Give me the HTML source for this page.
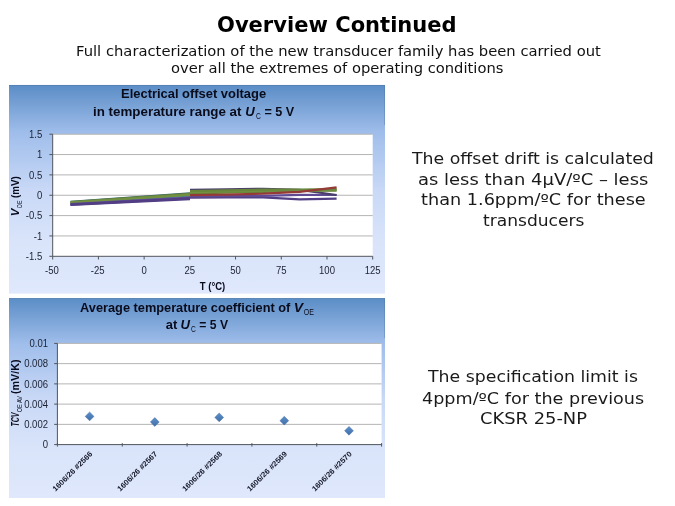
<!DOCTYPE html>
<html><head><meta charset="utf-8"><title>Overview Continued</title>
<style>
html,body{margin:0;padding:0;background:#fff;}
body{width:675px;height:506px;position:relative;overflow:hidden;font-family:"DejaVu Sans","Liberation Sans",sans-serif;color:#000;}
.t{position:absolute;white-space:nowrap;transform-origin:0 0;}
</style></head><body>
<svg width="675" height="506" viewBox="0 0 675 506" style="position:absolute;left:0;top:0" font-family="'Liberation Sans','DejaVu Sans',sans-serif">
<defs>
<linearGradient id="g1" x1="0" y1="0" x2="0" y2="1">
<stop offset="0" stop-color="#5b8dc6"/><stop offset="0.23" stop-color="#a0beeb"/><stop offset="0.5" stop-color="#c8d8f6"/><stop offset="0.75" stop-color="#d9e4fa"/><stop offset="1" stop-color="#dfe8fc"/>
</linearGradient>
<linearGradient id="gd" x1="0" y1="0" x2="0" y2="1"><stop offset="0" stop-color="#5d8fcb"/><stop offset="1" stop-color="#3f6fa8"/></linearGradient>
</defs>
<rect x="9" y="85" width="376" height="208.60000000000002" fill="url(#g1)"/>
<path d="M9 85.4H384.6V125" fill="none" stroke="#4a6a94" stroke-opacity="0.45" stroke-width="0.8"/>
<rect x="52.7" y="134.2" width="320" height="122.1" fill="#fff"/>
<line x1="52.7" y1="134.2" x2="372.7" y2="134.2" stroke="#b4b4b4"/>
<line x1="52.7" y1="154.55" x2="372.7" y2="154.55" stroke="#b4b4b4"/>
<line x1="52.7" y1="174.9" x2="372.7" y2="174.9" stroke="#b4b4b4"/>
<line x1="52.7" y1="195.25" x2="372.7" y2="195.25" stroke="#b4b4b4"/>
<line x1="52.7" y1="215.6" x2="372.7" y2="215.6" stroke="#b4b4b4"/>
<line x1="52.7" y1="235.95" x2="372.7" y2="235.95" stroke="#b4b4b4"/>
<g stroke="#50545c" stroke-width="1">
<line x1="52.7" y1="134.2" x2="52.7" y2="256.3"/>
<line x1="52.7" y1="256.3" x2="372.7" y2="256.3"/>
<line x1="49.4" y1="134.2" x2="52.7" y2="134.2"/>
<line x1="49.4" y1="154.55" x2="52.7" y2="154.55"/>
<line x1="49.4" y1="174.9" x2="52.7" y2="174.9"/>
<line x1="49.4" y1="195.25" x2="52.7" y2="195.25"/>
<line x1="49.4" y1="215.6" x2="52.7" y2="215.6"/>
<line x1="49.4" y1="235.95" x2="52.7" y2="235.95"/>
<line x1="49.4" y1="256.3" x2="52.7" y2="256.3"/>
<line x1="52.7" y1="256.3" x2="52.7" y2="259.5"/>
<line x1="98.41" y1="256.3" x2="98.41" y2="259.5"/>
<line x1="144.13" y1="256.3" x2="144.13" y2="259.5"/>
<line x1="189.84" y1="256.3" x2="189.84" y2="259.5"/>
<line x1="235.56" y1="256.3" x2="235.56" y2="259.5"/>
<line x1="281.27" y1="256.3" x2="281.27" y2="259.5"/>
<line x1="326.99" y1="256.3" x2="326.99" y2="259.5"/>
<line x1="372.7" y1="256.3" x2="372.7" y2="259.5"/>
</g>
<g font-size="10.6" fill="#1b2133">
<text transform="translate(42.3,137.9) scale(0.9,1)" text-anchor="end">1.5</text>
<text transform="translate(42.3,158.25) scale(0.9,1)" text-anchor="end">1</text>
<text transform="translate(42.3,178.6) scale(0.9,1)" text-anchor="end">0.5</text>
<text transform="translate(42.3,198.95) scale(0.9,1)" text-anchor="end">0</text>
<text transform="translate(42.3,219.3) scale(0.9,1)" text-anchor="end">-0.5</text>
<text transform="translate(42.3,239.65) scale(0.9,1)" text-anchor="end">-1</text>
<text transform="translate(42.3,260) scale(0.9,1)" text-anchor="end">-1.5</text>
<text transform="translate(51.9,274.3) scale(0.9,1)" text-anchor="middle">-50</text>
<text transform="translate(97.61,274.3) scale(0.9,1)" text-anchor="middle">-25</text>
<text transform="translate(144.13,274.3) scale(0.9,1)" text-anchor="middle">0</text>
<text transform="translate(189.84,274.3) scale(0.9,1)" text-anchor="middle">25</text>
<text transform="translate(235.56,274.3) scale(0.9,1)" text-anchor="middle">50</text>
<text transform="translate(281.27,274.3) scale(0.9,1)" text-anchor="middle">75</text>
<text transform="translate(326.99,274.3) scale(0.9,1)" text-anchor="middle">100</text>
<text transform="translate(372.7,274.3) scale(0.9,1)" text-anchor="middle">125</text>
</g>
<polyline points="70.5,201.8 190,193.4" fill="none" stroke="#35606f" stroke-width="2.2" stroke-linejoin="round"/>
<polyline points="70.5,203.2 190,195.9" fill="none" stroke="#4a8196" stroke-width="2.2" stroke-linejoin="round"/>
<polyline points="70.5,202 190,193.8" fill="none" stroke="#67863b" stroke-width="2.2" stroke-linejoin="round"/>
<polyline points="70.5,202.6 190,194.9" fill="none" stroke="#729042" stroke-width="2.2" stroke-linejoin="round"/>
<polyline points="70.5,204.2 190,197.6" fill="none" stroke="#5f4a96" stroke-width="2.2" stroke-linejoin="round"/>
<polyline points="70.5,204.6 190,198.4" fill="none" stroke="#523e84" stroke-width="2.2" stroke-linejoin="round"/>
<polyline points="70.5,204.9 190,199.1" fill="none" stroke="#523e84" stroke-width="2.2" stroke-linejoin="round"/>
<polyline points="190,197.6 226.6,197.4 263.2,197.3 299.7,199.3 336.6,198.6" fill="none" stroke="#523e84" stroke-width="2.2" stroke-linejoin="round"/>
<polyline points="190,196.6 226.6,196.2 263.2,195.8 299.7,194.8 336.6,195" fill="none" stroke="#5f4a96" stroke-width="2.2" stroke-linejoin="round"/>
<polyline points="190,189.9 226.6,189.3 263.2,188.8 299.7,189.8 336.6,195" fill="none" stroke="#4b3f6a" stroke-width="2.2" stroke-linejoin="round"/>
<polyline points="190,193.4 226.6,192.6 263.2,191.8 299.7,191 336.6,190.7" fill="none" stroke="#67863b" stroke-width="2.2" stroke-linejoin="round"/>
<polyline points="190,192.2 226.6,191.4 263.2,190.7 299.7,190.2 336.6,189.9" fill="none" stroke="#729042" stroke-width="2.2" stroke-linejoin="round"/>
<polyline points="190,191 226.6,190.3 263.2,189.7 299.7,189.5 336.6,189.2" fill="none" stroke="#67863b" stroke-width="2.2" stroke-linejoin="round"/>
<polyline points="190,195.2 226.6,194.6 263.2,193.7 299.7,191.9 336.6,187.4" fill="none" stroke="#963a38" stroke-width="2.2" stroke-linejoin="round"/>
<g font-weight="bold" fill="#0a0c1c" font-size="13.6">
<text x="121.1" y="98.3" textLength="145" lengthAdjust="spacingAndGlyphs">Electrical offset voltage</text>
<text x="93" y="116.1" textLength="148.5" lengthAdjust="spacingAndGlyphs">in temperature range at</text>
<text x="245.3" y="116.1" textLength="9.5" lengthAdjust="spacingAndGlyphs" font-style="italic">U</text>
<text x="255.9" y="118.8" textLength="4.8" lengthAdjust="spacingAndGlyphs" font-size="9" font-weight="normal">C</text>
<text x="264.4" y="116.1" textLength="29.8" lengthAdjust="spacingAndGlyphs">= 5 V</text>
</g>
<text x="212.5" y="290.4" font-size="10.6" font-weight="bold" fill="#0a0c1c" text-anchor="middle" transform="translate(212.5,0) scale(0.9,1) translate(-212.5,0)">T (°C)</text>
<g transform="translate(18.8,216.2) rotate(-90)" font-size="10.2" font-weight="bold" fill="#0a0c1c">
<text x="0" y="0" textLength="7.6" lengthAdjust="spacingAndGlyphs" font-style="italic">V</text>
<text x="8" y="2.9" textLength="7.6" lengthAdjust="spacingAndGlyphs" font-size="7.6" font-weight="normal">OE</text>
<text x="18.2" y="0" textLength="21.7" lengthAdjust="spacingAndGlyphs">(mV)</text>
</g>
<rect x="9" y="298.1" width="376" height="199.89999999999998" fill="url(#g1)"/>
<path d="M9 298.5H384.6V338.1" fill="none" stroke="#4a6a94" stroke-opacity="0.45" stroke-width="0.8"/>
<rect x="57.4" y="343.4" width="324.2" height="101.2" fill="#fff"/>
<line x1="57.4" y1="343.4" x2="381.6" y2="343.4" stroke="#b4b4b4"/>
<line x1="57.4" y1="363.64" x2="381.6" y2="363.64" stroke="#b4b4b4"/>
<line x1="57.4" y1="383.88" x2="381.6" y2="383.88" stroke="#b4b4b4"/>
<line x1="57.4" y1="404.12" x2="381.6" y2="404.12" stroke="#b4b4b4"/>
<line x1="57.4" y1="424.36" x2="381.6" y2="424.36" stroke="#b4b4b4"/>
<g stroke="#50545c" stroke-width="1">
<line x1="57.4" y1="343.4" x2="57.4" y2="444.6"/>
<line x1="57.4" y1="444.6" x2="381.6" y2="444.6"/>
<line x1="54.2" y1="343.4" x2="57.4" y2="343.4"/>
<line x1="54.2" y1="363.64" x2="57.4" y2="363.64"/>
<line x1="54.2" y1="383.88" x2="57.4" y2="383.88"/>
<line x1="54.2" y1="404.12" x2="57.4" y2="404.12"/>
<line x1="54.2" y1="424.36" x2="57.4" y2="424.36"/>
<line x1="54.2" y1="444.6" x2="57.4" y2="444.6"/>
<line x1="57.4" y1="443.1" x2="57.4" y2="446.6"/>
<line x1="122.24" y1="443.1" x2="122.24" y2="446.6"/>
<line x1="187.08" y1="443.1" x2="187.08" y2="446.6"/>
<line x1="251.92" y1="443.1" x2="251.92" y2="446.6"/>
<line x1="316.76" y1="443.1" x2="316.76" y2="446.6"/>
<line x1="381.6" y1="443.1" x2="381.6" y2="446.6"/>
</g>
<g font-size="10.6" fill="#1b2133">
<text transform="translate(48,347.1) scale(0.9,1)" text-anchor="end">0.01</text>
<text transform="translate(48,367.34) scale(0.9,1)" text-anchor="end">0.008</text>
<text transform="translate(48,387.58) scale(0.9,1)" text-anchor="end">0.006</text>
<text transform="translate(48,407.82) scale(0.9,1)" text-anchor="end">0.004</text>
<text transform="translate(48,428.06) scale(0.9,1)" text-anchor="end">0.002</text>
<text transform="translate(48,448.3) scale(0.9,1)" text-anchor="end">0</text>
</g>
<path d="M89.6 412 l4.4 4.4 l-4.4 4.4 l-4.4 -4.4 z" fill="url(#gd)" stroke="#426fa6" stroke-width="0.5"/>
<path d="M154.8 417.6 l4.4 4.4 l-4.4 4.4 l-4.4 -4.4 z" fill="url(#gd)" stroke="#426fa6" stroke-width="0.5"/>
<path d="M219.2 413 l4.4 4.4 l-4.4 4.4 l-4.4 -4.4 z" fill="url(#gd)" stroke="#426fa6" stroke-width="0.5"/>
<path d="M284.3 416.3 l4.4 4.4 l-4.4 4.4 l-4.4 -4.4 z" fill="url(#gd)" stroke="#426fa6" stroke-width="0.5"/>
<path d="M349 426.4 l4.4 4.4 l-4.4 4.4 l-4.4 -4.4 z" fill="url(#gd)" stroke="#426fa6" stroke-width="0.5"/>
<g font-size="7.5" font-weight="bold" fill="#14182a">
<text transform="translate(72.4,471.3) rotate(-45)" x="0" y="2.6" text-anchor="middle" textLength="53" lengthAdjust="spacingAndGlyphs">1606/26 #2566</text>
<text transform="translate(137.24,471.3) rotate(-45)" x="0" y="2.6" text-anchor="middle" textLength="53" lengthAdjust="spacingAndGlyphs">1606/26 #2567</text>
<text transform="translate(202.08,471.3) rotate(-45)" x="0" y="2.6" text-anchor="middle" textLength="53" lengthAdjust="spacingAndGlyphs">1606/26 #2568</text>
<text transform="translate(266.92,471.3) rotate(-45)" x="0" y="2.6" text-anchor="middle" textLength="53" lengthAdjust="spacingAndGlyphs">1606/26 #2569</text>
<text transform="translate(331.76,471.3) rotate(-45)" x="0" y="2.6" text-anchor="middle" textLength="53" lengthAdjust="spacingAndGlyphs">1606/26 #2570</text>
</g>
<g font-weight="bold" fill="#0a0c1c" font-size="13.6">
<text x="80.1" y="311.6" textLength="210.2" lengthAdjust="spacingAndGlyphs">Average temperature coefficient of</text>
<text x="293.7" y="311.6" textLength="9.3" lengthAdjust="spacingAndGlyphs" font-style="italic">V</text>
<text x="303.7" y="314.6" textLength="10.2" lengthAdjust="spacingAndGlyphs" font-size="9.2" font-weight="normal">OE</text>
<text x="165.8" y="329.2" textLength="11.5" lengthAdjust="spacingAndGlyphs">at</text>
<text x="180.6" y="329.2" textLength="9.5" lengthAdjust="spacingAndGlyphs" font-style="italic">U</text>
<text x="191.1" y="332" textLength="4.8" lengthAdjust="spacingAndGlyphs" font-size="9" font-weight="normal">C</text>
<text x="199.3" y="329.2" textLength="28.7" lengthAdjust="spacingAndGlyphs">= 5 V</text>
</g>
<g transform="translate(19.3,426) rotate(-90)" font-size="10.6" font-weight="bold" fill="#0a0c1c">
<text x="-0.6" y="0" textLength="14.2" lengthAdjust="spacingAndGlyphs" font-style="italic" font-size="10.4">TCV</text>
<text x="13.8" y="2.6" textLength="16.2" lengthAdjust="spacingAndGlyphs" font-size="7.8" font-weight="normal">OE AV</text>
<text x="32" y="0" textLength="34.5" lengthAdjust="spacingAndGlyphs">(mV/K)</text>
</g>
</svg>
<div class="t" style="left:216.9px;top:11.87px;font-size:20.6px;line-height:26px;transform:scaleX(1.0216);font-weight:bold;color:#000">Overview Continued</div>
<div class="t" style="left:75.8px;top:42.06px;font-size:14px;line-height:18px;transform:scaleX(1.0535);color:#111">Full characterization of the new transducer family has been carried out</div>
<div class="t" style="left:171px;top:58.56px;font-size:14px;line-height:18px;transform:scaleX(1.0517);color:#111">over all the extremes of operating conditions</div>
<div class="t" style="left:411.5px;top:148.73px;font-size:15.8px;line-height:20px;transform:scaleX(1.0962);color:#1a1a1a">The offset drift is calculated</div>
<div class="t" style="left:417.9px;top:169.53px;font-size:15.8px;line-height:20px;transform:scaleX(1.1367);color:#1a1a1a">as less than 4µV/ºC – less</div>
<div class="t" style="left:421px;top:190.33px;font-size:15.8px;line-height:20px;transform:scaleX(1.1186);color:#1a1a1a">than 1.6ppm/ºC for these</div>
<div class="t" style="left:482.9px;top:211.13px;font-size:15.8px;line-height:20px;transform:scaleX(1.0810);color:#1a1a1a">transducers</div>
<div class="t" style="left:428.3px;top:367.43px;font-size:15.8px;line-height:20px;transform:scaleX(1.0967);color:#1a1a1a">The specification limit is</div>
<div class="t" style="left:422.1px;top:388.63px;font-size:15.8px;line-height:20px;transform:scaleX(1.1134);color:#1a1a1a">4ppm/ºC for the previous</div>
<div class="t" style="left:480.2px;top:409.33px;font-size:15.8px;line-height:20px;transform:scaleX(1.1314);color:#1a1a1a">CKSR 25-NP</div>
</body></html>
